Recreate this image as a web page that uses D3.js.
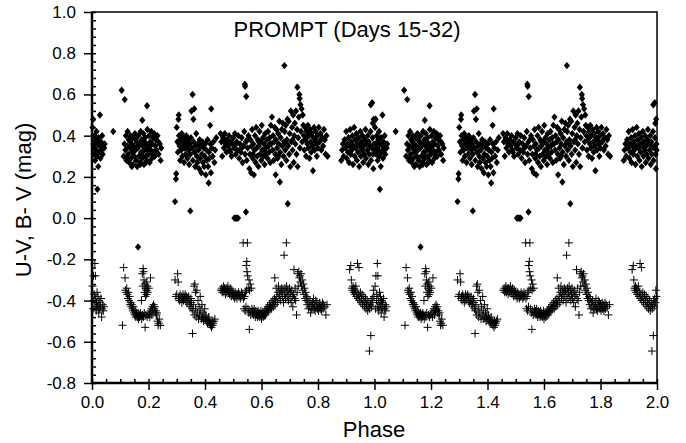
<!DOCTYPE html>
<html>
<head>
<meta charset="utf-8">
<script src="https://cdn.jsdelivr.net/npm/d3@7"></script>
<style>
  body { margin: 0; background: #fff; }
  svg { display: block; font-family: "Liberation Sans", Arial, Helvetica, sans-serif; }
  .tick text { font-size: 17px; fill: #000; }
  .tick line { stroke: #000; stroke-width: 1.5; }
</style>
</head>
<body>
<svg width="686" height="443"></svg>
<script>
// **** Data (phase 0-1, folded light curve) ****

var xTicks = [0.0, 0.2, 0.4, 0.6, 0.8, 1.0, 1.2, 1.4, 1.6, 1.8, 2.0];
var yTicks = [-0.8, -0.6, -0.4, -0.2, 0.0, 0.2, 0.4, 0.6, 0.8, 1.0];

// B-V (diamonds): [phase, mag]
var bvPoints = [
  [0.002,0.44],[0.004,0.48],[0.005,0.36],[0.006,0.31],[0.008,0.40],[0.010,0.34],[0.011,0.28],[0.013,0.38],
  [0.014,0.33],[0.016,0.42],[0.017,0.30],[0.019,0.14],[0.020,0.36],[0.022,0.25],[0.023,0.39],[0.025,0.32],
  [0.027,0.35],[0.028,0.50],[0.030,0.29],[0.032,0.37],[0.034,0.33],[0.036,0.40],[0.038,0.31],[0.040,0.35],
  [0.043,0.34],[0.045,0.36],
  [0.075,0.42],
  [0.105,0.62],[0.116,0.575],[0.112,0.30],[0.115,0.36],[0.118,0.33],[0.120,0.40],[0.122,0.28],[0.124,0.35],
  [0.126,0.42],[0.128,0.31],[0.130,0.38],[0.132,0.27],[0.134,0.34],[0.136,0.40],[0.138,0.29],[0.140,0.36],
  [0.142,0.32],[0.144,0.39],[0.146,0.26],[0.148,0.35],[0.150,0.30],[0.152,0.41],[0.154,0.33],[0.156,0.28],
  [0.158,0.37],[0.160,0.25],[0.162,0.34],[0.164,0.40],[0.166,0.30],[0.168,0.36],[0.170,0.27],[0.172,0.42],
  [0.174,0.32],[0.176,0.38],[0.178,0.475],[0.178,0.29],[0.180,0.35],[0.182,0.41],[0.184,0.26],[0.186,0.33],
  [0.188,0.39],[0.190,0.30],[0.192,0.36],[0.194,0.28],[0.195,0.545],[0.196,0.43],[0.198,0.34],[0.200,0.31],
  [0.202,0.40],[0.204,0.27],[0.206,0.37],[0.208,0.33],[0.210,0.42],[0.212,0.29],[0.214,0.36],[0.216,0.39],
  [0.218,0.32],[0.220,0.41],[0.222,0.30],[0.224,0.35],[0.226,0.38],[0.228,0.33],[0.232,0.40],[0.236,0.31],
  [0.240,0.36],[0.243,0.28],[0.245,0.34],[0.125,0.29],[0.135,0.37],[0.145,0.33],[0.155,0.38],[0.165,0.35],
  [0.175,0.31],[0.185,0.37],[0.195,0.33],[0.205,0.35],[0.215,0.31],[0.225,0.39],[0.235,0.37],[0.141,0.25],
  [0.171,0.26],[0.191,0.27],[0.163,-0.14],
  [0.294,0.08],[0.297,0.19],[0.298,0.215],[0.300,0.44],[0.302,0.37],[0.304,0.32],[0.306,0.48],[0.307,0.50],
  [0.308,0.40],[0.310,0.35],[0.312,0.28],[0.314,0.38],[0.316,0.33],[0.318,0.41],[0.320,0.30],[0.322,0.36],
  [0.324,0.39],[0.326,0.27],[0.328,0.34],[0.330,0.37],[0.332,0.31],[0.334,0.40],[0.336,0.35],[0.338,0.29],
  [0.340,0.38],[0.342,0.33],[0.344,0.26],[0.346,0.36],[0.348,0.035],[0.348,0.31],[0.350,0.39],[0.352,0.52],
  [0.354,0.34],[0.356,0.60],[0.357,0.28],[0.359,0.48],[0.360,0.37],[0.362,0.53],[0.363,0.32],[0.365,0.25],
  [0.367,0.35],[0.369,0.41],[0.371,0.30],[0.373,0.27],[0.375,0.36],[0.377,0.33],[0.379,0.24],[0.381,0.38],
  [0.383,0.29],[0.385,0.35],[0.387,0.22],[0.389,0.31],[0.391,0.37],[0.393,0.27],[0.395,0.34],[0.397,0.25],
  [0.399,0.30],[0.401,0.36],[0.403,0.21],[0.405,0.33],[0.407,0.28],[0.409,0.38],[0.411,0.25],[0.413,0.17],
  [0.414,0.32],[0.416,0.29],[0.418,0.45],[0.419,0.36],[0.421,0.22],[0.422,0.53],[0.424,0.34],[0.427,0.30],
  [0.430,0.37],[0.433,0.27],[0.436,0.33],[0.440,0.39],
  [0.455,0.41],[0.458,0.37],[0.461,0.30],[0.464,0.39],[0.467,0.34],[0.470,0.41],[0.473,0.36],[0.476,0.32],
  [0.479,0.38],[0.482,0.35],[0.485,0.40],[0.488,0.33],[0.491,0.37],[0.494,0.30],[0.497,0.36],[0.500,0.39],
  [0.503,0.34],[0.504,0.0],[0.506,0.41],[0.508,0.0],[0.509,0.31],[0.511,0.0],[0.512,0.37],[0.514,0.0],
  [0.515,0.33],[0.517,0.0],[0.518,0.40],[0.521,0.29],[0.524,0.36],[0.527,0.32],[0.530,0.39],[0.533,0.27],
  [0.536,0.35],[0.539,0.42],[0.541,0.65],[0.542,0.64],[0.542,0.31],[0.545,0.03],[0.546,0.59],[0.545,0.37],
  [0.548,0.28],[0.551,0.34],[0.554,0.40],[0.557,0.24],[0.559,0.31],[0.561,0.38],[0.563,0.22],[0.565,0.35],
  [0.567,0.43],[0.569,0.29],[0.571,0.36],[0.573,0.21],[0.575,0.33],[0.577,0.40],[0.579,0.27],[0.581,0.44],
  [0.583,0.34],[0.585,0.30],[0.587,0.38],[0.589,0.25],[0.591,0.35],[0.593,0.42],[0.595,0.31],[0.597,0.37],
  [0.599,0.28],[0.601,0.45],[0.603,0.33],[0.605,0.39],[0.607,0.30],[0.609,0.36],[0.611,0.26],[0.613,0.41],
  [0.615,0.34],[0.617,0.31],[0.619,0.38],[0.621,0.29],[0.623,0.42],[0.625,0.35],[0.627,0.32],[0.629,0.39],
  [0.631,0.27],[0.633,0.45],[0.635,0.36],[0.637,0.49],[0.639,0.33],[0.641,0.40],[0.643,0.28],[0.645,0.37],
  [0.647,0.44],[0.649,0.31],[0.650,0.21],[0.651,0.38],[0.653,0.43],[0.655,0.34],[0.657,0.29],[0.659,0.41],
  [0.661,0.36],[0.663,0.47],[0.665,0.175],[0.666,0.32],[0.668,0.39],[0.670,0.26],[0.672,0.43],[0.674,0.35],
  [0.676,0.46],[0.678,0.30],[0.680,0.37],[0.681,0.74],[0.682,0.42],[0.684,0.33],[0.686,0.45],[0.688,0.28],
  [0.690,0.38],[0.692,0.48],[0.693,0.07],[0.694,0.35],[0.696,0.47],[0.698,0.31],[0.700,0.41],[0.702,0.25],
  [0.704,0.52],[0.706,0.37],[0.708,0.44],[0.710,0.33],[0.712,0.50],[0.714,0.27],[0.716,0.40],[0.718,0.46],
  [0.720,0.36],[0.722,0.52],[0.724,0.31],[0.726,0.43],[0.727,0.635],[0.728,0.25],[0.730,0.39],[0.732,0.49],
  [0.734,0.60],[0.735,0.58],[0.736,0.34],[0.738,0.55],[0.740,0.42],[0.742,0.53],[0.744,0.37],[0.746,0.50],
  [0.748,0.45],[0.750,0.40],[0.752,0.33],[0.754,0.44],[0.756,0.38],[0.758,0.30],[0.760,0.42],[0.762,0.36],
  [0.764,0.45],[0.766,0.34],[0.768,0.40],[0.770,0.29],[0.772,0.43],[0.774,0.37],[0.776,0.32],[0.778,0.41],
  [0.780,0.35],[0.782,0.23],[0.784,0.39],[0.786,0.44],[0.788,0.33],[0.790,0.38],[0.792,0.42],[0.794,0.36],
  [0.796,0.30],[0.798,0.40],[0.800,0.34],[0.803,0.44],[0.806,0.37],[0.809,0.41],[0.812,0.33],[0.815,0.39],
  [0.818,0.35],[0.821,0.43],[0.824,0.38],[0.827,0.31],[0.830,0.40],[0.834,0.30],
  [0.470,0.38],[0.490,0.32],[0.510,0.36],[0.530,0.34],[0.550,0.38],[0.570,0.31],[0.590,0.37],[0.610,0.33],
  [0.630,0.36],[0.660,0.30],[0.690,0.36],[0.710,0.38],[0.760,0.39],[0.790,0.37],[0.810,0.38],
  [0.882,0.28],[0.885,0.33],[0.888,0.36],[0.891,0.30],[0.894,0.38],[0.897,0.34],[0.900,0.42],[0.902,0.29],
  [0.904,0.36],[0.906,0.32],[0.908,0.39],[0.910,0.27],[0.912,0.35],[0.914,0.43],[0.916,0.31],[0.918,0.37],
  [0.920,0.33],[0.922,0.40],[0.924,0.26],[0.926,0.35],[0.928,0.44],[0.930,0.30],[0.932,0.38],[0.934,0.34],
  [0.936,0.41],[0.938,0.28],[0.940,0.36],[0.942,0.32],[0.944,0.39],[0.946,0.25],[0.948,0.35],[0.950,0.42],
  [0.952,0.30],[0.954,0.37],[0.956,0.33],[0.958,0.40],[0.960,0.27],[0.962,0.35],[0.964,0.31],[0.966,0.38],
  [0.968,0.43],[0.970,0.29],[0.972,0.36],[0.974,0.33],[0.976,0.40],[0.978,0.26],[0.980,0.37],[0.982,0.31],
  [0.984,0.35],[0.986,0.42],[0.987,0.55],[0.988,0.28],[0.990,0.34],[0.992,0.56],[0.993,0.39],[0.994,0.46],
  [0.995,0.31],[0.996,0.24],[0.997,0.48],[0.998,0.36],[0.999,0.33]
];

// U-V (plus signs): [phase, mag]
var uvPoints = [
  [0.002,-0.33],[0.004,-0.44],[0.005,-0.28],[0.007,-0.40],[0.008,-0.37],[0.010,-0.22],[0.011,-0.43],[0.012,-0.28],
  [0.013,-0.39],[0.015,-0.45],[0.016,-0.41],[0.018,-0.36],[0.019,-0.43],[0.021,-0.38],[0.022,-0.42],[0.024,-0.46],
  [0.025,-0.40],[0.027,-0.44],[0.028,-0.41],[0.030,-0.43],[0.032,-0.39],[0.034,-0.48],[0.036,-0.44],[0.038,-0.42],
  [0.040,-0.45],[0.043,-0.43],
  [0.108,-0.52],[0.112,-0.24],[0.117,-0.29],[0.118,-0.35],[0.121,-0.36],[0.123,-0.34],[0.125,-0.37],[0.127,-0.39],
  [0.129,-0.36],[0.131,-0.40],[0.133,-0.38],[0.135,-0.42],[0.137,-0.41],[0.139,-0.43],[0.141,-0.42],[0.143,-0.44],
  [0.145,-0.45],[0.147,-0.43],[0.149,-0.46],[0.151,-0.47],[0.153,-0.45],[0.155,-0.48],[0.157,-0.46],[0.159,-0.47],
  [0.161,-0.48],[0.163,-0.46],[0.165,-0.49],[0.167,-0.47],[0.169,-0.48],[0.171,-0.46],[0.173,-0.47],[0.175,-0.40],
  [0.176,-0.49],[0.178,-0.27],[0.179,-0.47],[0.180,-0.33],[0.181,-0.245],[0.182,-0.48],[0.183,-0.26],[0.184,-0.30],
  [0.185,-0.46],[0.186,-0.36],[0.187,-0.32],[0.188,-0.53],[0.189,-0.38],[0.190,-0.34],[0.191,-0.47],[0.192,-0.31],
  [0.193,-0.37],[0.194,-0.35],[0.195,-0.48],[0.196,-0.33],[0.197,-0.36],[0.199,-0.47],[0.201,-0.34],[0.203,-0.46],
  [0.205,-0.48],[0.207,-0.29],[0.208,-0.45],[0.210,-0.44],[0.212,-0.47],[0.214,-0.43],[0.216,-0.45],[0.218,-0.42],
  [0.220,-0.44],[0.222,-0.43],[0.224,-0.46],[0.226,-0.45],[0.228,-0.47],[0.230,-0.46],[0.232,-0.50],[0.234,-0.52],
  [0.236,-0.51],[0.238,-0.49],[0.242,-0.52],
  [0.294,-0.30],[0.297,-0.38],[0.300,-0.37],[0.303,-0.27],[0.305,-0.31],[0.306,-0.39],[0.308,-0.38],[0.310,-0.40],
  [0.312,-0.37],[0.314,-0.39],[0.316,-0.38],[0.318,-0.41],[0.320,-0.39],[0.322,-0.37],[0.324,-0.40],[0.326,-0.38],
  [0.328,-0.39],[0.330,-0.37],[0.332,-0.40],[0.334,-0.38],[0.336,-0.41],[0.338,-0.39],[0.340,-0.40],[0.342,-0.38],
  [0.344,-0.42],[0.346,-0.40],[0.348,-0.43],[0.350,-0.39],[0.352,-0.41],[0.354,-0.44],[0.356,-0.56],[0.357,-0.45],
  [0.359,-0.42],[0.361,-0.33],[0.362,-0.47],[0.364,-0.32],[0.366,-0.36],[0.367,-0.44],[0.369,-0.48],[0.371,-0.35],
  [0.373,-0.46],[0.375,-0.40],[0.377,-0.49],[0.379,-0.43],[0.381,-0.47],[0.383,-0.38],[0.385,-0.45],[0.387,-0.49],
  [0.389,-0.42],[0.391,-0.48],[0.393,-0.46],[0.395,-0.50],[0.397,-0.48],[0.399,-0.44],[0.401,-0.49],[0.403,-0.47],
  [0.405,-0.50],[0.407,-0.49],[0.409,-0.51],[0.411,-0.50],[0.413,-0.48],[0.415,-0.51],[0.417,-0.50],[0.419,-0.52],
  [0.421,-0.51],[0.423,-0.53],[0.425,-0.50],[0.427,-0.52],[0.429,-0.51],[0.432,-0.50],[0.435,-0.49],
  [0.456,-0.35],[0.459,-0.34],[0.461,-0.36],[0.463,-0.35],[0.465,-0.33],[0.467,-0.36],[0.469,-0.34],[0.471,-0.35],
  [0.473,-0.37],[0.475,-0.34],[0.477,-0.36],[0.479,-0.35],[0.481,-0.33],[0.483,-0.36],[0.485,-0.35],[0.487,-0.37],
  [0.489,-0.34],[0.491,-0.36],[0.493,-0.38],[0.495,-0.35],[0.497,-0.37],[0.499,-0.36],[0.501,-0.38],[0.503,-0.37],
  [0.505,-0.39],[0.507,-0.36],[0.509,-0.38],[0.511,-0.37],[0.513,-0.39],[0.515,-0.37],[0.517,-0.38],[0.519,-0.36],
  [0.521,-0.38],[0.523,-0.37],[0.525,-0.39],[0.527,-0.38],[0.529,-0.36],[0.531,-0.38],[0.533,-0.37],[0.535,-0.12],
  [0.536,-0.39],[0.538,-0.44],[0.540,-0.38],[0.542,-0.45],[0.543,-0.36],[0.545,-0.43],[0.546,-0.23],[0.547,-0.35],
  [0.548,-0.21],[0.549,-0.26],[0.550,-0.12],[0.551,-0.28],[0.552,-0.44],[0.553,-0.34],[0.555,-0.46],[0.556,-0.30],
  [0.557,-0.54],[0.558,-0.35],[0.559,-0.45],[0.560,-0.32],[0.562,-0.47],[0.564,-0.34],[0.566,-0.44],[0.568,-0.46],
  [0.570,-0.45],[0.572,-0.47],[0.574,-0.44],[0.576,-0.46],[0.578,-0.48],[0.580,-0.45],[0.582,-0.47],[0.584,-0.46],
  [0.586,-0.48],[0.588,-0.45],[0.590,-0.47],[0.592,-0.46],[0.594,-0.48],[0.596,-0.47],[0.598,-0.45],[0.600,-0.49],
  [0.602,-0.47],[0.604,-0.46],[0.606,-0.48],[0.608,-0.46],[0.610,-0.47],[0.612,-0.45],[0.614,-0.47],[0.616,-0.44],
  [0.618,-0.46],[0.620,-0.45],[0.622,-0.43],[0.624,-0.45],[0.626,-0.44],[0.628,-0.42],[0.630,-0.44],[0.632,-0.43],
  [0.634,-0.41],[0.636,-0.44],[0.638,-0.42],[0.640,-0.40],[0.642,-0.43],[0.644,-0.41],[0.646,-0.39],[0.647,-0.29],
  [0.648,-0.42],[0.650,-0.40],[0.652,-0.34],[0.654,-0.38],[0.656,-0.41],[0.658,-0.36],[0.660,-0.33],[0.662,-0.39],
  [0.664,-0.37],[0.666,-0.35],[0.668,-0.40],[0.670,-0.36],[0.672,-0.34],[0.674,-0.38],[0.676,-0.35],[0.678,-0.41],
  [0.680,-0.18],[0.681,-0.37],[0.683,-0.34],[0.685,-0.39],[0.687,-0.36],[0.688,-0.12],[0.689,-0.33],[0.691,-0.38],
  [0.693,-0.35],[0.695,-0.40],[0.697,-0.37],[0.699,-0.34],[0.701,-0.39],[0.703,-0.36],[0.705,-0.41],[0.707,-0.35],
  [0.709,-0.38],[0.711,-0.43],[0.713,-0.37],[0.715,-0.25],[0.717,-0.39],[0.719,-0.34],[0.721,-0.40],[0.724,-0.47],
  [0.726,-0.36],[0.728,-0.27],[0.730,-0.33],[0.732,-0.26],[0.734,-0.29],[0.736,-0.28],[0.738,-0.31],[0.740,-0.27],
  [0.742,-0.33],[0.744,-0.30],[0.746,-0.35],[0.748,-0.32],[0.750,-0.37],[0.752,-0.34],[0.754,-0.39],[0.756,-0.36],
  [0.758,-0.40],[0.760,-0.38],[0.762,-0.42],[0.764,-0.39],[0.766,-0.44],[0.768,-0.41],[0.770,-0.43],[0.772,-0.40],
  [0.774,-0.46],[0.776,-0.42],[0.778,-0.44],[0.780,-0.41],[0.782,-0.43],[0.784,-0.39],[0.786,-0.44],[0.788,-0.42],
  [0.790,-0.45],[0.792,-0.40],[0.794,-0.43],[0.796,-0.41],[0.798,-0.44],[0.800,-0.42],[0.802,-0.45],[0.804,-0.43],
  [0.806,-0.41],[0.808,-0.44],[0.810,-0.42],[0.812,-0.45],[0.814,-0.43],[0.816,-0.41],[0.818,-0.44],[0.820,-0.42],
  [0.824,-0.43],[0.828,-0.47],[0.832,-0.42],
  [0.912,-0.25],[0.916,-0.23],[0.918,-0.30],[0.920,-0.34],[0.922,-0.35],[0.924,-0.33],[0.926,-0.36],[0.928,-0.34],
  [0.930,-0.37],[0.932,-0.35],[0.934,-0.33],[0.936,-0.38],[0.938,-0.36],[0.940,-0.22],[0.941,-0.39],[0.943,-0.37],
  [0.945,-0.24],[0.946,-0.40],[0.948,-0.38],[0.950,-0.36],[0.952,-0.41],[0.954,-0.39],[0.956,-0.37],[0.958,-0.42],
  [0.960,-0.40],[0.962,-0.38],[0.964,-0.43],[0.966,-0.41],[0.968,-0.39],[0.970,-0.44],[0.972,-0.42],[0.974,-0.40],
  [0.976,-0.45],[0.978,-0.43],[0.980,-0.41],[0.982,-0.645],[0.983,-0.44],[0.985,-0.42],[0.987,-0.57],[0.988,-0.40],
  [0.990,-0.43],[0.992,-0.39],[0.994,-0.41],[0.996,-0.35],[0.998,-0.38]
];

// **** Scales and axes ****

var svg = d3.select('svg');

var plotLeft = 92, plotRight = 657, plotTop = 12, plotBottom = 383;

var xScale = d3.scaleLinear().domain([0, 2]).range([plotLeft, plotRight]);
var yScale = d3.scaleLinear().domain([-0.8, 1.0]).range([plotBottom, plotTop]);

var fmt = function (d) { return d.toFixed(1); };

// minor ticks: every 0.05 in phase, every 0.04 in mag
var xMinor = d3.range(0, 41).map(function (i) { return i * 0.05; });
var yMinor = d3.range(0, 46).map(function (i) { return -0.8 + i * 0.04; });

svg.append('g').attr('class', 'x axis')
    .attr('transform', 'translate(0,' + plotBottom + ')')
    .call(d3.axisBottom(xScale).tickValues(xTicks).tickSize(7).tickPadding(6).tickFormat(fmt));

svg.append('g').attr('class', 'x minor')
    .attr('transform', 'translate(0,' + plotBottom + ')')
    .call(d3.axisTop(xScale).tickValues(xMinor).tickSize(4).tickFormat(''));

svg.append('g').attr('class', 'y axis')
    .attr('transform', 'translate(' + plotLeft + ',0)')
    .call(d3.axisLeft(yScale).tickValues(yTicks).tickSize(8).tickPadding(8).tickFormat(fmt));

svg.append('g').attr('class', 'y minor')
    .attr('transform', 'translate(' + plotLeft + ',0)')
    .call(d3.axisRight(yScale).tickValues(yMinor).tickSize(4).tickFormat(''));

svg.selectAll('.domain').remove();
svg.selectAll('.tick text').attr('font-size', 17);

// frame
svg.append('rect')
    .attr('x', plotLeft).attr('y', plotTop)
    .attr('width', plotRight - plotLeft).attr('height', plotBottom - plotTop)
    .attr('fill', 'none').attr('stroke', '#000').attr('stroke-width', 1.5);

svg.append('line')
    .attr('x1', plotLeft).attr('x2', plotLeft).attr('y1', plotTop).attr('y2', plotBottom + 1)
    .attr('stroke', '#000').attr('stroke-width', 2.5);

svg.append('line')
    .attr('x1', plotLeft - 1).attr('x2', plotRight + 1).attr('y1', plotBottom).attr('y2', plotBottom)
    .attr('stroke', '#000').attr('stroke-width', 2.5);

// **** Labels ****

svg.append('text')
    .attr('x', 347).attr('y', 37)
    .attr('text-anchor', 'middle')
    .attr('font-size', '22px')
    .text('PROMPT (Days 15-32)');

svg.append('text')
    .attr('x', 374).attr('y', 437)
    .attr('text-anchor', 'middle')
    .attr('font-size', '22px')
    .text('Phase');

svg.append('text')
    .attr('transform', 'translate(31, 200) rotate(-90)')
    .attr('text-anchor', 'middle')
    .attr('font-size', '22px')
    .text('U-V, B- V (mag)');

// **** Points, drawn for phase p and p + 1 ****

function unfold(points) {
    var out = [];
    points.forEach(function (d) {
        out.push(d);
        if (d[0] + 1 <= 2.0) out.push([d[0] + 1, d[1]]);
    });
    return out;
}

var plot = svg.append('g').attr('class', 'points');

plot.selectAll('path.bv')
    .data(unfold(bvPoints))
    .enter().append('path')
    .attr('class', 'bv')
    .attr('transform', function (d) { return 'translate(' + xScale(d[0]) + ',' + yScale(d[1]) + ')'; })
    .attr('d', 'M0,-3.7L3.1,0L0,3.7L-3.1,0Z')
    .attr('fill', '#000');

plot.selectAll('path.uv')
    .data(unfold(uvPoints))
    .enter().append('path')
    .attr('class', 'uv')
    .attr('transform', function (d) { return 'translate(' + xScale(d[0]) + ',' + yScale(d[1]) + ')'; })
    .attr('d', 'M-4,0H4M0,-4V4')
    .attr('fill', 'none')
    .attr('stroke', '#000')
    .attr('stroke-width', 1);
</script>
</body>
</html>
